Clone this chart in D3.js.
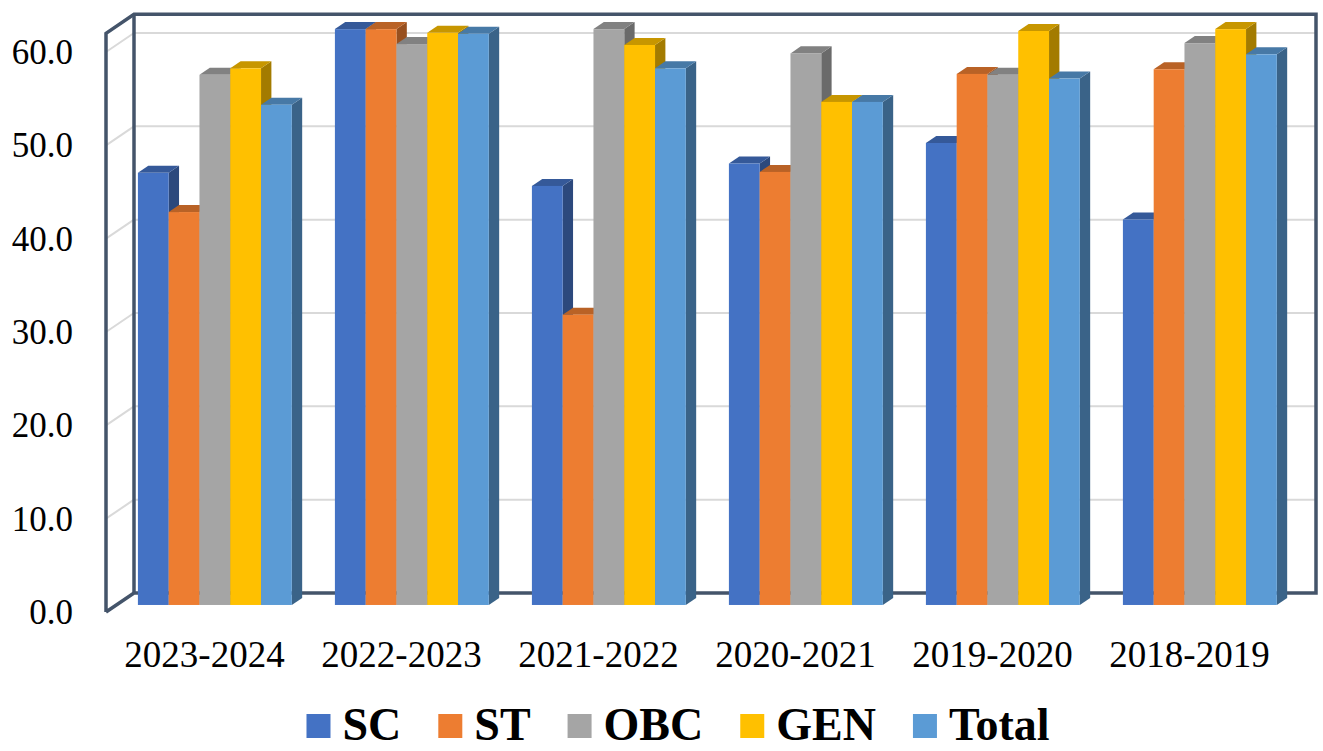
<!DOCTYPE html>
<html>
<head>
<meta charset="utf-8">
<script src="https://cdn.jsdelivr.net/npm/d3@7"></script>
<style>
  html, body { margin: 0; padding: 0; background: #fff; }
  svg { display: block; }
</style>
</head>
<body>
<svg id="chart" width="1323" height="751"></svg>
<script>
// Academic years shown on the category axis
const years = ["2023-2024", "2022-2023", "2021-2022", "2020-2021", "2019-2020", "2018-2019"];

// Percentages per social category, one value per year
const SC    = [46.3, 61.7, 44.9, 47.3, 49.5, 41.3];
const ST    = [42.1, 61.7, 31.1, 46.4, 56.9, 57.4];
const OBC   = [56.8, 60.1, 61.7, 59.1, 56.8, 60.2];
const GEN   = [57.5, 61.3, 60.0, 53.9, 61.5, 61.7];
const Total = [53.6, 61.2, 57.5, 53.9, 56.4, 59.0];

const seriesNames = ["SC", "ST", "OBC", "GEN", "Total"];
const seriesData  = [SC, ST, OBC, GEN, Total];
const colors      = ["#4472C4", "#ED7D31", "#A5A5A5", "#FFC000", "#5B9BD5"];

const yTicks = [0, 10, 20, 30, 40, 50, 60];

const serif = "'Liberation Serif', 'Times New Roman', Tinos, 'DejaVu Serif', serif";

const svg = d3.select("#chart");

// Oblique projection: moving to the back wall shifts right and up
const depthX = 28, depthY = -19;
const barZ0 = 0.37, barZ1 = 0.74;
const proj = (x, y, z) => [x + z * depthX, y + z * depthY];

// Scales on the front plane
const x0 = d3.scaleBand().domain(years).range([106, 1288]).paddingInner(0).paddingOuter(0);
const x1 = d3.scaleBand().domain(seriesNames).range([0, x0.bandwidth()]).paddingInner(0).paddingOuter(0.7);
const y = d3.scaleLinear().domain([0, 62]).range([612, 612 - 62 * 9.333]);

const frameColor = "#44546A";
const gridColor = "#D9D9D9";

// Gridlines on the back wall and the left wall
const grid = svg.append("g");
yTicks.filter(v => v > 0).forEach(v => {
  const [bx0, by] = proj(x0.range()[0], y(v), 1);
  const [bx1] = proj(x0.range()[1], y(v), 1);
  const [fx, fy] = proj(x0.range()[0], y(v), 0);
  grid.append("line").attr("x1", bx0).attr("y1", by).attr("x2", bx1).attr("y2", by)
    .attr("stroke", gridColor).attr("stroke-width", 2);
  grid.append("line").attr("x1", fx).attr("y1", fy).attr("x2", bx0).attr("y2", by)
    .attr("stroke", gridColor).attr("stroke-width", 2);
});

// Wall outlines
const xl = x0.range()[0], xr = x0.range()[1];
const yTop = y(62), yBot = y(0);
const wallPts = [
  proj(xl, yBot, 0), proj(xl, yTop, 0), proj(xl, yTop, 1), proj(xr, yTop, 1),
  proj(xr, yBot, 1), proj(xl, yBot, 1), proj(xl, yBot, 0)
];
svg.append("path")
  .attr("d", d3.line()(wallPts))
  .attr("fill", "none").attr("stroke", frameColor).attr("stroke-width", 3.5)
  .attr("stroke-linejoin", "miter");
svg.append("line")
  .attr("x1", proj(xl, yTop, 1)[0]).attr("y1", proj(xl, yTop, 1)[1])
  .attr("x2", proj(xl, yBot, 1)[0]).attr("y2", proj(xl, yBot, 1)[1])
  .attr("stroke", frameColor).attr("stroke-width", 3.5);

// Bars, painted left to right so nearer faces cover farther ones
const shade = (c, k) => { const r = d3.rgb(c); return d3.rgb(r.r * k, r.g * k, r.b * k).toString(); };
const bars = svg.append("g");
years.forEach((yr, gi) => {
  seriesNames.forEach((s, si) => {
    const v = seriesData[si][gi];
    const xa = x0(yr) + x1(s), xb = xa + x1.bandwidth();
    const yt = y(v), yb = y(0);
    const F = (x, yy) => proj(x, yy, barZ0);
    const B = (x, yy) => proj(x, yy, barZ1);
    const g = bars.append("g");
    // right side
    g.append("path").attr("d", d3.line()([F(xb, yt), B(xb, yt), B(xb, yb), F(xb, yb)]) + "Z")
      .attr("fill", shade(colors[si], 0.64));
    // top
    g.append("path").attr("d", d3.line()([F(xa, yt), B(xa, yt), B(xb, yt), F(xb, yt)]) + "Z")
      .attr("fill", shade(colors[si], 0.78));
    // front
    const [fx, fy] = F(xa, yt);
    const [, fb] = F(xa, yb);
    g.append("rect").attr("x", fx).attr("y", fy).attr("width", xb - xa).attr("height", fb - fy)
      .attr("fill", colors[si]);
  });
});

// Value axis labels
svg.append("g").selectAll("text").data(yTicks).join("text")
  .attr("x", 73).attr("y", d => y(d) + 12)
  .attr("text-anchor", "end").attr("font-size", 35)
  .attr("font-family", serif).attr("fill", "#000")
  .text(d => d3.format(".1f")(d));

// Category labels on the front floor edge
svg.append("g").selectAll("text").data(years).join("text")
  .attr("x", d => x0(d) + x0.bandwidth() / 2).attr("y", 667)
  .attr("text-anchor", "middle").attr("font-size", 37)
  .attr("font-family", serif).attr("fill", "#000")
  .text(d => d);

// Legend
const legend = svg.append("g");
const items = seriesNames.map((s, i) => {
  const g = legend.append("g");
  g.append("rect").attr("x", 0).attr("y", 714).attr("width", 24).attr("height", 24).attr("fill", colors[i]);
  const t = g.append("text").attr("x", 36).attr("y", 740)
    .attr("font-family", serif).attr("fill", "#000")
    .attr("font-size", 46).attr("font-weight", "bold").text(s);
  return { g, w: 36 + t.node().getComputedTextLength() };
});
const gap = 37;
const totalW = d3.sum(items, d => d.w) + gap * (items.length - 1);
let cx = 678 - totalW / 2;
items.forEach(it => { it.g.attr("transform", `translate(${cx},0)`); cx += it.w + gap; });
</script>
</body>
</html>
